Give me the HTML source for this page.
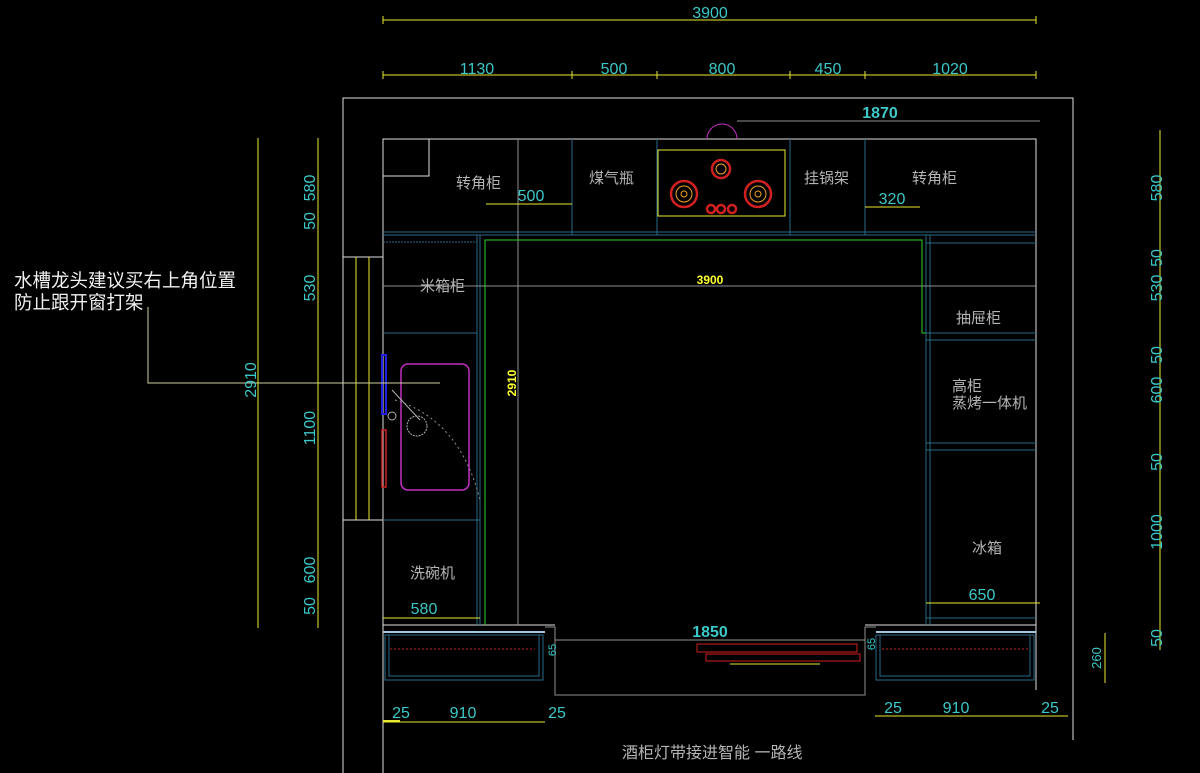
<!DOCTYPE html>
<html><head><meta charset="utf-8"><style>
html,body{margin:0;padding:0;background:#000;}
svg{display:block}
.t{font-family:"Liberation Sans","Noto Sans CJK SC",sans-serif;fill:#b4b4b4;font-size:15px}
.c{font-family:"Liberation Sans",sans-serif;fill:#3cc8c8;font-size:16px}
.y{font-family:"Liberation Sans",sans-serif;fill:#ffff30;font-size:12px;font-weight:bold}
</style></head><body>
<svg width="1200" height="773" viewBox="0 0 1200 773" xmlns="http://www.w3.org/2000/svg">
<rect width="1200" height="773" fill="#000"/>
<g fill="none" stroke-width="1">
<line x1="383" y1="20" x2="1036" y2="20" stroke="#e8e830"/>
<line x1="383" y1="75" x2="1036" y2="75" stroke="#e8e830"/>
<g stroke="#e8e830"><line x1="383" y1="16" x2="383" y2="24"/><line x1="1036" y1="16" x2="1036" y2="24"/>
<line x1="383" y1="71" x2="383" y2="79"/><line x1="572" y1="71" x2="572" y2="79"/><line x1="657" y1="71" x2="657" y2="79"/><line x1="790" y1="71" x2="790" y2="79"/><line x1="865" y1="71" x2="865" y2="79"/><line x1="1036" y1="71" x2="1036" y2="79"/></g>
<g stroke="#e0e0e0">
<polyline points="343,257 343,98 1073,98 1073,740"/>
<line x1="343" y1="257" x2="343" y2="773"/>
<line x1="343" y1="257" x2="383" y2="257"/>
<line x1="343" y1="520" x2="383" y2="520"/>
<polyline points="383,773 383,139 1036,139 1036,625"/>
<rect x="383" y="139" width="46" height="37"/>
<line x1="383" y1="625" x2="555" y2="625"/><line x1="865" y1="625" x2="1036" y2="625"/>
<line x1="1036" y1="625" x2="1036" y2="690"/>
</g>
<line x1="356" y1="257" x2="356" y2="520" stroke="#e8e830"/>
<line x1="369" y1="257" x2="369" y2="520" stroke="#e8e830"/>
<g stroke="#2a6a8a"><line x1="383" y1="232" x2="1036" y2="232"/><line x1="383" y1="235" x2="1036" y2="235"/>
<line x1="572" y1="139" x2="572" y2="235"/><line x1="657" y1="139" x2="657" y2="235"/><line x1="790" y1="139" x2="790" y2="235"/><line x1="865" y1="139" x2="865" y2="235"/>
<line x1="477" y1="235" x2="477" y2="625"/><line x1="480" y1="235" x2="480" y2="625"/>
<line x1="383" y1="333" x2="477" y2="333"/><line x1="383" y1="520" x2="480" y2="520"/>
<line x1="383" y1="242" x2="477" y2="242" stroke-dasharray="2,1"/>
<line x1="926" y1="235" x2="926" y2="625"/><line x1="930" y1="235" x2="930" y2="625"/>
<line x1="926" y1="243" x2="1036" y2="243"/><line x1="926" y1="333" x2="1036" y2="333"/><line x1="926" y1="340" x2="1036" y2="340"/>
<line x1="926" y1="443" x2="1036" y2="443"/><line x1="926" y1="450" x2="1036" y2="450"/>
<line x1="926" y1="618" x2="1036" y2="618"/>
<rect x="385" y="635" width="158" height="45"/><rect x="389" y="635" width="150" height="41"/>
<rect x="876" y="635" width="158" height="45"/><rect x="880" y="635" width="150" height="41"/>
</g>
<line x1="383" y1="632" x2="545" y2="632" stroke="#a0c8e0" stroke-width="2"/>
<line x1="876" y1="632" x2="1036" y2="632" stroke="#a0c8e0" stroke-width="2"/>
<line x1="390" y1="649" x2="535" y2="649" stroke="#c02020" stroke-dasharray="2,2"/>
<line x1="882" y1="649" x2="1030" y2="649" stroke="#c02020" stroke-dasharray="2,2"/>
<g stroke="#909090">
<line x1="518" y1="139" x2="518" y2="625"/>
<line x1="383" y1="286" x2="1036" y2="286"/>
<line x1="737" y1="121" x2="1040" y2="121"/>
<polyline points="545,627 555,627 555,695 865,695 865,627 876,627"/>
<line x1="555" y1="640" x2="865" y2="640"/>
</g>
<polyline points="485,625 485,240 922,240 922,333 926,333" stroke="#30d030"/>
<rect x="658" y="150" width="127" height="66" stroke="#e8e830"/>
<g stroke="#d02020" stroke-width="2.5">
<circle cx="684" cy="194" r="13"/><circle cx="758" cy="194" r="13"/><circle cx="721" cy="169" r="9"/>
<circle cx="711" cy="209" r="4"/><circle cx="721" cy="209" r="4"/><circle cx="732" cy="209" r="4"/></g>
<g stroke="#f0a020"><circle cx="684" cy="194" r="8"/><circle cx="758" cy="194" r="8"/><circle cx="721" cy="169" r="5"/><circle cx="684" cy="194" r="3"/><circle cx="758" cy="194" r="3"/></g>
<path d="M707,139 A15,15 0 0 1 737,139" stroke="#c030c0"/>
<rect x="401" y="364" width="68" height="126" rx="7" stroke="#c030c0" stroke-width="1.5"/>
<rect x="382" y="355" width="4" height="59" stroke="#2020e0" stroke-width="2"/>
<rect x="382" y="430" width="4" height="57" stroke="#d02020" stroke-width="1.5"/>
<circle cx="417" cy="426" r="10" stroke="#b0b0b0" stroke-dasharray="2,1"/>
<circle cx="392" cy="416" r="4" stroke="#b0b0b0"/>
<line x1="392" y1="390" x2="420" y2="420" stroke="#b0b0b0"/>
<path d="M395,400 Q460,420 480,500" stroke="#909090" stroke-dasharray="2,3"/>
<rect x="697" y="644" width="160" height="8" stroke="#d02020"/>
<rect x="706" y="654" width="154" height="7" stroke="#d02020"/>
<line x1="730" y1="664" x2="820" y2="664" stroke="#e8e830"/>
<polyline points="148,307 148,383 440,383" stroke="#d0d0a0"/>
<g stroke="#e8e830">
<line x1="258" y1="138" x2="258" y2="628"/><line x1="318" y1="138" x2="318" y2="628"/>
<line x1="1160" y1="130" x2="1160" y2="650"/>
<line x1="1105" y1="633" x2="1105" y2="683"/>
<line x1="486" y1="204" x2="572" y2="204"/>
<line x1="865" y1="207" x2="920" y2="207"/>
<line x1="926" y1="603" x2="1040" y2="603"/>
<line x1="383" y1="618" x2="480" y2="618"/>
<line x1="383" y1="722" x2="545" y2="722"/><line x1="383" y1="721" x2="400" y2="721" stroke-width="2"/>
<line x1="875" y1="716" x2="1068" y2="716"/>
</g>
</g>
<g class="c" text-anchor="middle">
<text x="710" y="18">3900</text>
<text x="477" y="74">1130</text><text x="614" y="74">500</text><text x="722" y="74">800</text><text x="828" y="74">450</text><text x="950" y="74">1020</text>
<text x="531" y="201">500</text><text x="892" y="204">320</text>
<text x="982" y="600">650</text><text x="424" y="614">580</text>
<text x="401" y="718">25</text><text x="463" y="718">910</text><text x="557" y="718">25</text>
<text x="893" y="713">25</text><text x="956" y="713">910</text><text x="1050" y="713">25</text>
</g>
<g class="c" font-size="15">
<text transform="translate(256,380) rotate(-90)" text-anchor="middle">2910</text>
<text transform="translate(315,188) rotate(-90)" text-anchor="middle">580</text>
<text transform="translate(315,221) rotate(-90)" text-anchor="middle">50</text>
<text transform="translate(315,288) rotate(-90)" text-anchor="middle">530</text>
<text transform="translate(315,428) rotate(-90)" text-anchor="middle">1100</text>
<text transform="translate(315,570) rotate(-90)" text-anchor="middle">600</text>
<text transform="translate(315,606) rotate(-90)" text-anchor="middle">50</text>
<text transform="translate(1162,188) rotate(-90)" text-anchor="middle">580</text>
<text transform="translate(1162,258) rotate(-90)" text-anchor="middle">50</text>
<text transform="translate(1162,288) rotate(-90)" text-anchor="middle">530</text>
<text transform="translate(1162,355) rotate(-90)" text-anchor="middle">50</text>
<text transform="translate(1162,390) rotate(-90)" text-anchor="middle">600</text>
<text transform="translate(1162,462) rotate(-90)" text-anchor="middle">50</text>
<text transform="translate(1162,532) rotate(-90)" text-anchor="middle">1000</text>
<text transform="translate(1162,638) rotate(-90)" text-anchor="middle">50</text>
<text transform="translate(1101,658) rotate(-90)" text-anchor="middle" font-size="13">260</text>
<text transform="translate(556,650) rotate(-90)" text-anchor="middle" font-size="11">65</text>
<text transform="translate(875,644) rotate(-90)" text-anchor="middle" font-size="11">65</text>
</g>
<text class="c" x="710" y="637" text-anchor="middle" font-size="13" font-weight="bold">1850</text>
<text class="c" x="880" y="118" text-anchor="middle" font-size="13" font-weight="bold">1870</text>
<text class="y" x="710" y="284" text-anchor="middle">3900</text>
<text class="y" transform="translate(516,383) rotate(-90)" text-anchor="middle">2910</text>
<g class="t">
<text x="456" y="188">转角柜</text><text x="589" y="183">煤气瓶</text><text x="804" y="183">挂锅架</text><text x="912" y="183">转角柜</text>
<text x="420" y="291">米箱柜</text><text x="956" y="323">抽屉柜</text>
<text x="952" y="391">高柜</text><text x="952" y="408">蒸烤一体机</text>
<text x="972" y="553">冰箱</text><text x="410" y="578">洗碗机</text>
<text x="622" y="758" font-size="16">酒柜灯带接进智能 一路线</text>
<text x="14" y="287" font-size="18.5" fill="#f0f0f0">水槽龙头建议买右上角位置</text>
<text x="14" y="309" font-size="18.5" fill="#f0f0f0">防止跟开窗打架</text>
</g>
</svg>
</body></html>
